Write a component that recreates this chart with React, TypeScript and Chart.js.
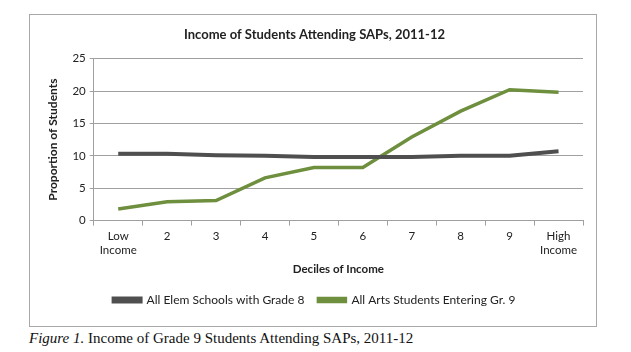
import React, { useEffect, useRef } from "react";
import { Chart, registerables } from "chart.js";

Chart.register(...registerables);

const categories: (string | string[])[] = [["Low", "Income"], "2", "3", "4", "5", "6", "7", "8", "9", ["High", "Income"]];
const elemSchools = [10.3, 10.3, 10.1, 10.0, 9.8, 9.8, 9.8, 10.0, 10.0, 10.7];
const artsStudents = [1.8, 2.9, 3.1, 6.6, 8.2, 8.2, 12.9, 16.9, 20.2, 19.8];
const seriesNames = ["All Elem Schools with Grade 8", "All Arts Students Entering Gr. 9"];
const titleText = "Income of Students Attending SAPs, 2011-12";
const xTitle = "Deciles of Income";
const yTitle = "Proportion of Students";

const FONT = "Lato, 'Open Sans', sans-serif";

export default function App() {
  const ref = useRef<HTMLCanvasElement>(null);
  useEffect(() => {
    if (!ref.current) return;
    const chart = new Chart(ref.current, {
      type: "line",
      data: {
        labels: categories,
        datasets: [
          {
            label: seriesNames[0],
            data: elemSchools,
            borderColor: "#4f4f4f",
            backgroundColor: "#4f4f4f",
            borderWidth: 4,
            pointRadius: 0,
            tension: 0,
          },
          {
            label: seriesNames[1],
            data: artsStudents,
            borderColor: "#6e8f3d",
            backgroundColor: "#6e8f3d",
            borderWidth: 3.5,
            pointRadius: 0,
            tension: 0,
          },
        ],
      },
      options: {
        animation: false,
        responsive: false,
        layout: { padding: { left: 16, right: 13, top: 4, bottom: 10 } },
        plugins: {
          title: {
            display: true,
            text: titleText,
            color: "#222",
            font: { family: FONT, size: 13, weight: "bold" },
            padding: { top: 8, bottom: 16 },
          },
          legend: {
            position: "bottom",
            labels: {
              boxWidth: 27,
              boxHeight: 3,
              color: "#222",
              font: { family: FONT, size: 12 },
              padding: 14,
            },
          },
          tooltip: { enabled: false },
        },
        scales: {
          x: {
            offset: true,
            grid: { display: true, drawOnChartArea: false, offset: true, tickLength: 5, color: "#a0a0a0" },
            border: { color: "#a0a0a0" },
            ticks: { color: "#222", font: { family: FONT, size: 11.5 }, maxRotation: 0, padding: 4 },
            title: { display: true, text: xTitle, color: "#222", font: { family: FONT, size: 11.5, weight: "bold" }, padding: { top: 1, bottom: 4 } },
          },
          y: {
            min: 0,
            max: 25,
            ticks: { stepSize: 5, color: "#222", font: { family: FONT, size: 11.5 }, padding: 4 },
            grid: { color: "#a0a0a0", tickLength: 4 },
            border: { color: "#a0a0a0" },
            title: { display: true, text: yTitle, color: "#222", font: { family: FONT, size: 12, weight: "bold" }, padding: { top: 0, bottom: 8 } },
          },
        },
      },
    });
    return () => chart.destroy();
  }, []);

  return (
    <div style={{ padding: "6px 0 0 21px" }}>
      <div style={{ width: 566, height: 311, border: "1px solid #a8a8a8" }}>
        <canvas ref={ref} width={566} height={311} style={{ display: "block" }} />
      </div>
      <div style={{ fontFamily: "'Liberation Serif', 'Times New Roman', serif", fontSize: 15, marginTop: 3, color: "#111" }}>
        <i>Figure 1.</i> Income of Grade 9 Students Attending SAPs, 2011-12
      </div>
    </div>
  );
}
